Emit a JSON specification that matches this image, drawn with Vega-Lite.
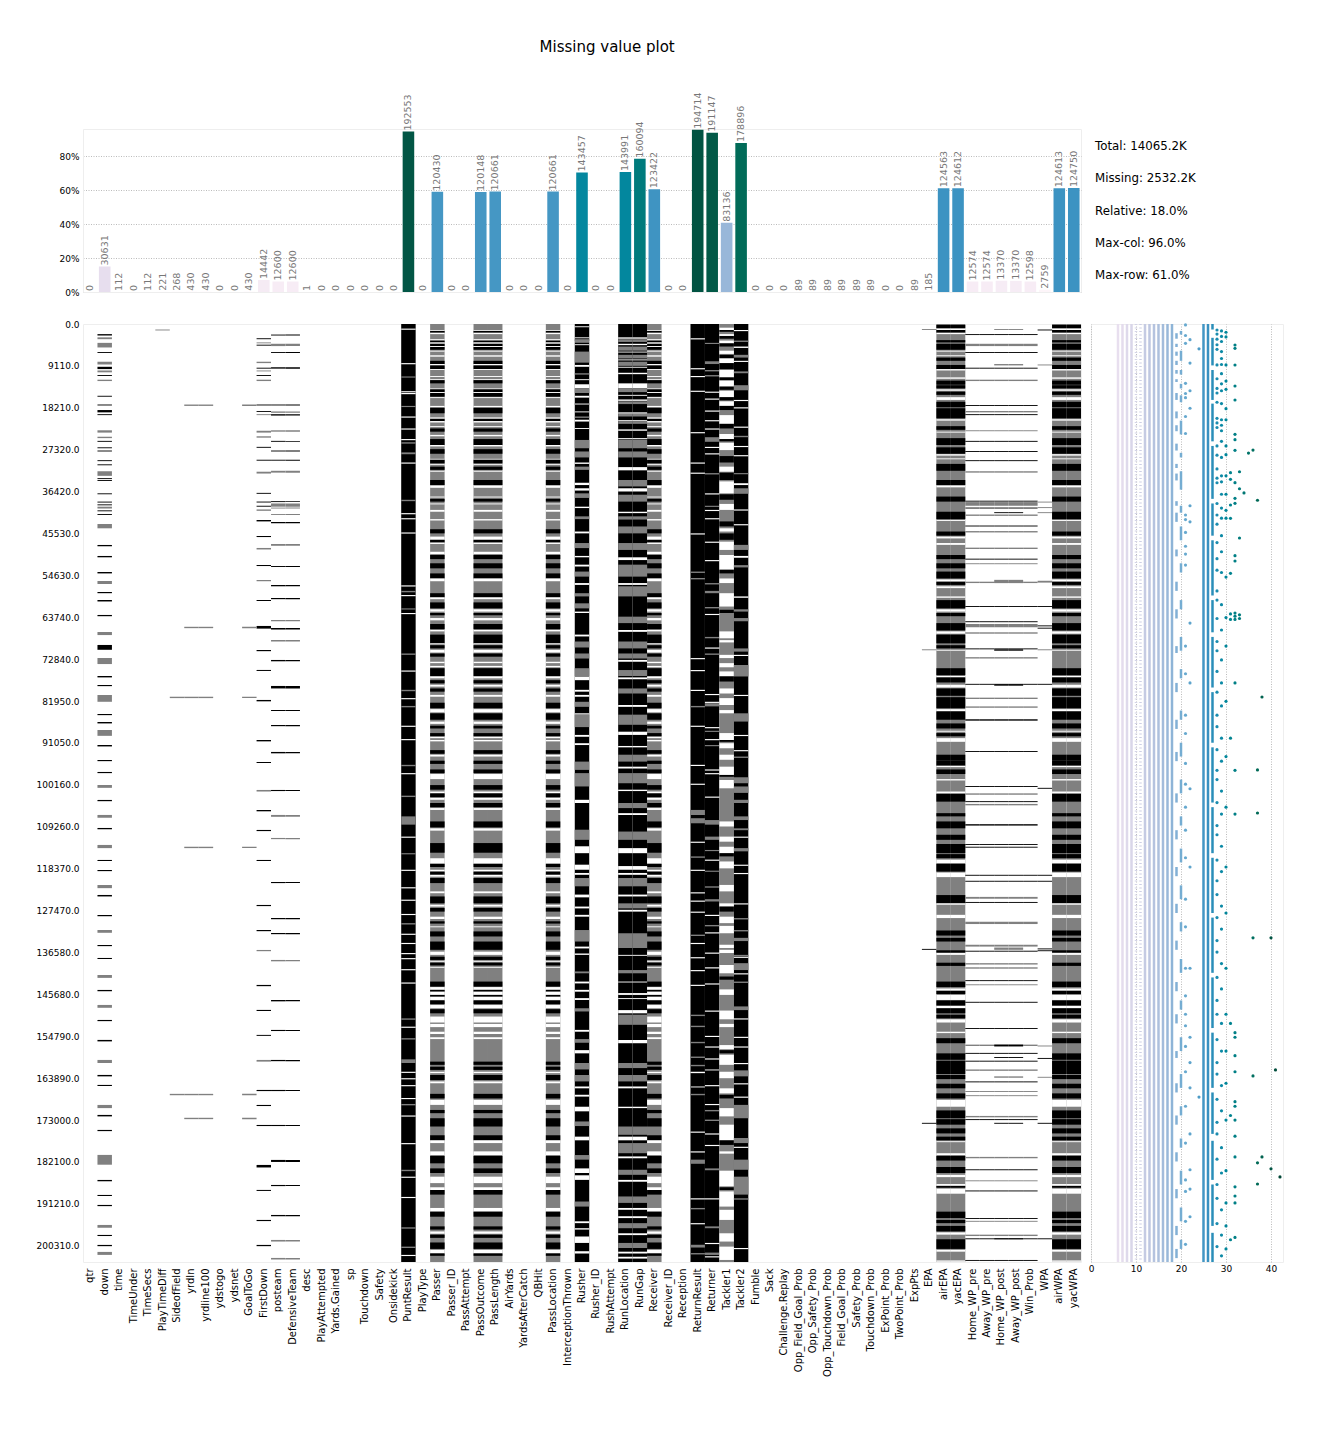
{
"$schema":"https://vega.github.io/schema/vega-lite/v6.json",
"padding":{"left":35,"top":40,"right":5,"bottom":5},
"background":"white",
"title":{"text":"Missing value plot","anchor":"start","dx":504,"offset":37,"fontSize":15,"fontWeight":"normal","font":"DejaVu Sans","color":"#000"},
"bounds":"flush",
"spacing":195,
"config":{"font":"DejaVu Sans","view":{"stroke":"#eeeeee"},"concat":{"spacing":10}},
"datasets":{
"cols":[{"c":"qtr","n":0},{"c":"down","n":30631},{"c":"time","n":112},{"c":"TimeUnder","n":0},{"c":"TimeSecs","n":112},{"c":"PlayTimeDiff","n":221},{"c":"SideofField","n":268},{"c":"yrdln","n":430},{"c":"yrdline100","n":430},{"c":"ydstogo","n":0},{"c":"ydsnet","n":0},{"c":"GoalToGo","n":430},{"c":"FirstDown","n":14442},{"c":"posteam","n":12600},{"c":"DefensiveTeam","n":12600},{"c":"desc","n":1},{"c":"PlayAttempted","n":0},{"c":"Yards.Gained","n":0},{"c":"sp","n":0},{"c":"Touchdown","n":0},{"c":"Safety","n":0},{"c":"Onsidekick","n":0},{"c":"PuntResult","n":192553},{"c":"PlayType","n":0},{"c":"Passer","n":120430},{"c":"Passer_ID","n":0},{"c":"PassAttempt","n":0},{"c":"PassOutcome","n":120148},{"c":"PassLength","n":120661},{"c":"AirYards","n":0},{"c":"YardsAfterCatch","n":0},{"c":"QBHit","n":0},{"c":"PassLocation","n":120661},{"c":"InterceptionThrown","n":0},{"c":"Rusher","n":143457},{"c":"Rusher_ID","n":0},{"c":"RushAttempt","n":0},{"c":"RunLocation","n":143991},{"c":"RunGap","n":160094},{"c":"Receiver","n":123422},{"c":"Receiver_ID","n":0},{"c":"Reception","n":0},{"c":"ReturnResult","n":194714},{"c":"Returner","n":191147},{"c":"Tackler1","n":83136},{"c":"Tackler2","n":178896},{"c":"Fumble","n":0},{"c":"Sack","n":0},{"c":"Challenge.Replay","n":0},{"c":"Opp_Field_Goal_Prob","n":89},{"c":"Opp_Safety_Prob","n":89},{"c":"Opp_Touchdown_Prob","n":89},{"c":"Field_Goal_Prob","n":89},{"c":"Safety_Prob","n":89},{"c":"Touchdown_Prob","n":89},{"c":"ExPoint_Prob","n":0},{"c":"TwoPoint_Prob","n":0},{"c":"ExpPts","n":89},{"c":"EPA","n":185},{"c":"airEPA","n":124563},{"c":"yacEPA","n":124612},{"c":"Home_WP_pre","n":12574},{"c":"Away_WP_pre","n":12574},{"c":"Home_WP_post","n":13370},{"c":"Away_WP_post","n":13370},{"c":"Win_Prob","n":12598},{"c":"WPA","n":2759},{"c":"airWPA","n":124613},{"c":"yacWPA","n":124750}],
"groups":[{"g":"PR","cs":["PuntResult"]},{"g":"RR","cs":["ReturnResult"]},{"g":"RT","cs":["Returner"]},{"g":"T1","cs":["Tackler1"]},{"g":"T2","cs":["Tackler2"]},{"g":"P","cs":["Passer","PassOutcome","PassLength","PassLocation","Receiver"]},{"g":"R","cs":["Rusher"]},{"g":"RL","cs":["RunLocation","RunGap"]},{"g":"E","cs":["airEPA","yacEPA","airWPA","yacWPA"]},{"g":"D","cs":["down"]},{"g":"FD","cs":["FirstDown"]},{"g":"PT","cs":["posteam","DefensiveTeam"]},{"g":"WP","cs":["Home_WP_pre","Away_WP_pre","Home_WP_post","Away_WP_post","Win_Prob"]},{"g":"WPP","cs":["Home_WP_post","Away_WP_post"]},{"g":"WA","cs":["WPA"]},{"g":"EP","cs":["EPA"]},{"g":"Y","cs":["yrdln","yrdline100","GoalToGo"]},{"g":"S","cs":["SideofField"]},{"g":"PD","cs":["PlayTimeDiff"]}],
"strips":[
{"g":"PR","a":0,"b":203843,"t":"k"},{"g":"RR","a":0,"b":203843,"t":"k"},{"g":"RT","a":0,"b":203843,"t":"k"},{"g":"T1","a":0,"b":203843,"t":"g"},{"g":"T2","a":0,"b":203843,"t":"k"},{"g":"P","a":0,"b":203843,"t":"g"},{"g":"R","a":0,"b":203843,"t":"k"},{"g":"RL","a":0,"b":203843,"t":"k"},{"g":"E","a":0,"b":203843,"t":"g"},
{"g":"P","a":1300,"b":1500,"t":"w"},{"g":"P","a":1500,"b":1900,"t":"k"},{"g":"P","a":1900,"b":2200,"t":"w"},{"g":"P","a":3300,"b":3600,"t":"w"},{"g":"P","a":3600,"b":4000,"t":"k"},{"g":"P","a":4000,"b":4300,"t":"w"},{"g":"P","a":4300,"b":4800,"t":"k"},{"g":"P","a":4800,"b":5000,"t":"w"},{"g":"P","a":5000,"b":5600,"t":"k"},{"g":"P","a":5800,"b":6000,"t":"w"},{"g":"P","a":6800,"b":7100,"t":"w"},{"g":"P","a":8000,"b":8700,"t":"k"},{"g":"P","a":8700,"b":9000,"t":"w"},{"g":"P","a":9000,"b":9800,"t":"k"},{"g":"P","a":9800,"b":10000,"t":"w"},{"g":"P","a":11300,"b":11500,"t":"w"},{"g":"P","a":12000,"b":12200,"t":"w"},{"g":"P","a":12200,"b":12900,"t":"k"},{"g":"P","a":14000,"b":14200,"t":"w"},{"g":"P","a":14200,"b":14800,"t":"k"},{"g":"P","a":14800,"b":15000,"t":"w"},{"g":"P","a":15000,"b":15800,"t":"k"},{"g":"P","a":15900,"b":16100,"t":"w"},{"g":"P","a":17800,"b":18100,"t":"w"},{"g":"P","a":18200,"b":19400,"t":"k"},{"g":"P","a":20300,"b":20600,"t":"w"},{"g":"P","a":20600,"b":21100,"t":"k"},{"g":"P","a":21100,"b":21400,"t":"w"},{"g":"P","a":22200,"b":22400,"t":"w"},{"g":"P","a":22700,"b":23400,"t":"k"},{"g":"P","a":24100,"b":24400,"t":"w"},{"g":"P","a":25000,"b":26300,"t":"k"},{"g":"P","a":26300,"b":26600,"t":"w"},{"g":"P","a":27200,"b":28200,"t":"k"},{"g":"P","a":29300,"b":29500,"t":"w"},{"g":"P","a":29500,"b":30300,"t":"k"},{"g":"P","a":30400,"b":30600,"t":"w"},{"g":"P","a":31000,"b":31700,"t":"k"},{"g":"P","a":31900,"b":32100,"t":"w"},{"g":"P","a":33900,"b":35000,"t":"k"},{"g":"P","a":35100,"b":35600,"t":"w"},{"g":"P","a":37500,"b":37700,"t":"w"},{"g":"P","a":38000,"b":38600,"t":"k"},{"g":"P","a":39000,"b":39200,"t":"w"},{"g":"P","a":40400,"b":40800,"t":"w"},{"g":"P","a":42400,"b":42700,"t":"w"},{"g":"P","a":44600,"b":45500,"t":"k"},{"g":"P","a":46200,"b":46900,"t":"w"},{"g":"P","a":46900,"b":47500,"t":"k"},{"g":"P","a":47500,"b":47800,"t":"w"},{"g":"P","a":49500,"b":50000,"t":"w"},{"g":"P","a":50200,"b":51100,"t":"k"},{"g":"P","a":52000,"b":53100,"t":"k"},{"g":"P","a":54200,"b":55300,"t":"k"},{"g":"P","a":55300,"b":55900,"t":"w"},{"g":"P","a":58500,"b":59400,"t":"k"},{"g":"P","a":59400,"b":59800,"t":"w"},{"g":"P","a":60500,"b":61800,"t":"k"},{"g":"P","a":62000,"b":62500,"t":"w"},{"g":"P","a":62800,"b":63300,"t":"k"},{"g":"P","a":63900,"b":64400,"t":"w"},{"g":"P","a":65200,"b":66300,"t":"k"},{"g":"P","a":66500,"b":66800,"t":"w"},{"g":"P","a":67500,"b":69400,"t":"k"},{"g":"P","a":69400,"b":69600,"t":"w"},{"g":"P","a":69800,"b":70500,"t":"k"},{"g":"P","a":70800,"b":71400,"t":"w"},{"g":"P","a":71600,"b":72300,"t":"k"},{"g":"P","a":73400,"b":73700,"t":"w"},{"g":"P","a":74300,"b":74600,"t":"w"},{"g":"P","a":74800,"b":76500,"t":"k"},{"g":"P","a":76600,"b":77000,"t":"w"},{"g":"P","a":77400,"b":78100,"t":"k"},{"g":"P","a":78400,"b":78800,"t":"w"},{"g":"P","a":79200,"b":79900,"t":"k"},{"g":"P","a":80600,"b":81000,"t":"w"},{"g":"P","a":82300,"b":83500,"t":"k"},{"g":"P","a":83700,"b":84400,"t":"w"},{"g":"P","a":84600,"b":86000,"t":"k"},{"g":"P","a":86400,"b":86900,"t":"w"},{"g":"P","a":87300,"b":87900,"t":"k"},{"g":"P","a":88900,"b":89600,"t":"k"},{"g":"P","a":89700,"b":90000,"t":"w"},{"g":"P","a":90400,"b":90700,"t":"w"},{"g":"P","a":92600,"b":93400,"t":"k"},{"g":"P","a":93600,"b":94000,"t":"w"},{"g":"P","a":94900,"b":95600,"t":"k"},{"g":"P","a":96800,"b":97600,"t":"k"},{"g":"P","a":97800,"b":98900,"t":"w"},{"g":"P","a":100200,"b":101200,"t":"k"},{"g":"P","a":101600,"b":102000,"t":"w"},{"g":"P","a":102000,"b":102800,"t":"k"},{"g":"P","a":103000,"b":103400,"t":"w"},{"g":"P","a":104100,"b":105000,"t":"k"},{"g":"P","a":105200,"b":105600,"t":"w"},{"g":"P","a":108100,"b":109400,"t":"k"},{"g":"P","a":109600,"b":110100,"t":"w"},{"g":"P","a":112800,"b":114900,"t":"k"},{"g":"P","a":116100,"b":117300,"t":"w"},{"g":"P","a":117300,"b":118000,"t":"k"},{"g":"P","a":118600,"b":119000,"t":"w"},{"g":"P","a":119000,"b":119700,"t":"k"},{"g":"P","a":119700,"b":120100,"t":"w"},{"g":"P","a":120400,"b":121500,"t":"k"},{"g":"P","a":123300,"b":123700,"t":"w"},{"g":"P","a":124400,"b":125900,"t":"k"},{"g":"P","a":126200,"b":126600,"t":"w"},{"g":"P","a":126900,"b":127700,"t":"k"},{"g":"P","a":128800,"b":129300,"t":"w"},{"g":"P","a":129800,"b":130300,"t":"k"},{"g":"P","a":130900,"b":131100,"t":"w"},{"g":"P","a":132000,"b":133100,"t":"k"},{"g":"P","a":134200,"b":136000,"t":"k"},{"g":"P","a":136400,"b":137100,"t":"w"},{"g":"P","a":137500,"b":138200,"t":"k"},{"g":"P","a":138400,"b":138600,"t":"w"},{"g":"P","a":138800,"b":139400,"t":"k"},{"g":"P","a":139700,"b":139900,"t":"w"},{"g":"P","a":142900,"b":144000,"t":"k"},{"g":"P","a":144100,"b":144700,"t":"w"},{"g":"P","a":144700,"b":145100,"t":"k"},{"g":"P","a":145100,"b":145800,"t":"w"},{"g":"P","a":145800,"b":146200,"t":"k"},{"g":"P","a":146200,"b":146900,"t":"w"},{"g":"P","a":147000,"b":147800,"t":"k"},{"g":"P","a":148000,"b":148700,"t":"w"},{"g":"P","a":148900,"b":149800,"t":"k"},{"g":"P","a":150500,"b":151800,"t":"w"},{"g":"P","a":152100,"b":152800,"t":"w"},{"g":"P","a":153800,"b":154300,"t":"w"},{"g":"P","a":155000,"b":155400,"t":"w"},{"g":"P","a":160300,"b":161000,"t":"k"},{"g":"P","a":161400,"b":162100,"t":"k"},{"g":"P","a":162500,"b":162800,"t":"w"},{"g":"P","a":163200,"b":164300,"t":"k"},{"g":"P","a":164600,"b":165000,"t":"w"},{"g":"P","a":167300,"b":168300,"t":"k"},{"g":"P","a":168600,"b":169700,"t":"w"},{"g":"P","a":170800,"b":171500,"t":"k"},{"g":"P","a":172600,"b":174400,"t":"k"},{"g":"P","a":176300,"b":177400,"t":"k"},{"g":"P","a":177400,"b":178000,"t":"w"},{"g":"P","a":179800,"b":180600,"t":"w"},{"g":"P","a":180800,"b":182400,"t":"k"},{"g":"P","a":183500,"b":184500,"t":"k"},{"g":"P","a":185300,"b":186700,"t":"w"},{"g":"P","a":187600,"b":188200,"t":"w"},{"g":"P","a":188200,"b":189200,"t":"k"},{"g":"P","a":192100,"b":192900,"t":"w"},{"g":"P","a":192900,"b":194000,"t":"k"},{"g":"P","a":196100,"b":196800,"t":"k"},{"g":"P","a":197200,"b":197700,"t":"w"},{"g":"P","a":197900,"b":198600,"t":"k"},{"g":"P","a":199600,"b":201000,"t":"k"},{"g":"P","a":201200,"b":201900,"t":"w"},{"g":"P","a":202000,"b":202500,"t":"k"},
{"g":"RL","a":2900,"b":3200,"t":"w"},{"g":"RL","a":3300,"b":3900,"t":"g"},{"g":"RL","a":4300,"b":4600,"t":"w"},{"g":"RL","a":4900,"b":5800,"t":"g"},{"g":"RL","a":6000,"b":6200,"t":"w"},{"g":"RL","a":6700,"b":7500,"t":"g"},{"g":"RL","a":7700,"b":7900,"t":"w"},{"g":"RL","a":8200,"b":9100,"t":"g"},{"g":"RL","a":9300,"b":9500,"t":"w"},{"g":"RL","a":10600,"b":10900,"t":"w"},{"g":"RL","a":12900,"b":14000,"t":"w"},{"g":"RL","a":14000,"b":14800,"t":"g"},{"g":"RL","a":15400,"b":15600,"t":"w"},{"g":"RL","a":16400,"b":16700,"t":"w"},{"g":"RL","a":16800,"b":17400,"t":"g"},{"g":"RL","a":19200,"b":19500,"t":"w"},{"g":"RL","a":19500,"b":20100,"t":"g"},{"g":"RL","a":20900,"b":21100,"t":"w"},{"g":"RL","a":21100,"b":21700,"t":"g"},{"g":"RL","a":22900,"b":23200,"t":"w"},{"g":"RL","a":24800,"b":25000,"t":"w"},{"g":"RL","a":25100,"b":27000,"t":"g"},{"g":"RL","a":27700,"b":29000,"t":"g"},{"g":"RL","a":31100,"b":31800,"t":"w"},{"g":"RL","a":33900,"b":35300,"t":"g"},{"g":"RL","a":35700,"b":36400,"t":"w"},{"g":"RL","a":37100,"b":38600,"t":"g"},{"g":"RL","a":40800,"b":41100,"t":"w"},{"g":"RL","a":41800,"b":42500,"t":"g"},{"g":"RL","a":44000,"b":45500,"t":"g"},{"g":"RL","a":47600,"b":49100,"t":"g"},{"g":"RL","a":50700,"b":51300,"t":"w"},{"g":"RL","a":52300,"b":54900,"t":"g"},{"g":"RL","a":56300,"b":56700,"t":"w"},{"g":"RL","a":57000,"b":59200,"t":"g"},{"g":"RL","a":63600,"b":65000,"t":"g"},{"g":"RL","a":66500,"b":66900,"t":"w"},{"g":"RL","a":69000,"b":70500,"t":"g"},{"g":"RL","a":71600,"b":72700,"t":"g"},{"g":"RL","a":73000,"b":73400,"t":"w"},{"g":"RL","a":75200,"b":76500,"t":"g"},{"g":"RL","a":76800,"b":77200,"t":"w"},{"g":"RL","a":79200,"b":80300,"t":"g"},{"g":"RL","a":82800,"b":83200,"t":"w"},{"g":"RL","a":84900,"b":87100,"t":"g"},{"g":"RL","a":88600,"b":89300,"t":"w"},{"g":"RL","a":91700,"b":92000,"t":"w"},{"g":"RL","a":93600,"b":95100,"t":"g"},{"g":"RL","a":96200,"b":96600,"t":"w"},{"g":"RL","a":97600,"b":99800,"t":"g"},{"g":"RL","a":101200,"b":101500,"t":"w"},{"g":"RL","a":104100,"b":105200,"t":"g"},{"g":"RL","a":106300,"b":106700,"t":"w"},{"g":"RL","a":110300,"b":112100,"t":"g"},{"g":"RL","a":113900,"b":115000,"t":"w"},{"g":"RL","a":117800,"b":118600,"t":"w"},{"g":"RL","a":119300,"b":119700,"t":"w"},{"g":"RL","a":120400,"b":122200,"t":"g"},{"g":"RL","a":124000,"b":124400,"t":"w"},{"g":"RL","a":125900,"b":127000,"t":"g"},{"g":"RL","a":127300,"b":127700,"t":"w"},{"g":"RL","a":132400,"b":135600,"t":"g"},{"g":"RL","a":137100,"b":137300,"t":"w"},{"g":"RL","a":140400,"b":141100,"t":"g"},{"g":"RL","a":142900,"b":143100,"t":"w"},{"g":"RL","a":145400,"b":145800,"t":"w"},{"g":"RL","a":146500,"b":146700,"t":"w"},{"g":"RL","a":149100,"b":149800,"t":"w"},{"g":"RL","a":150100,"b":152300,"t":"g"},{"g":"RL","a":155600,"b":156300,"t":"w"},{"g":"RL","a":160600,"b":161700,"t":"g"},{"g":"RL","a":163200,"b":164600,"t":"g"},{"g":"RL","a":165700,"b":166100,"t":"w"},{"g":"RL","a":170100,"b":170400,"t":"w"},{"g":"RL","a":174400,"b":176200,"t":"g"},{"g":"RL","a":176600,"b":177400,"t":"w"},{"g":"RL","a":178000,"b":180200,"t":"g"},{"g":"RL","a":180900,"b":181300,"t":"w"},{"g":"RL","a":183800,"b":184900,"t":"g"},{"g":"RL","a":186000,"b":186400,"t":"w"},{"g":"RL","a":189600,"b":191000,"t":"g"},{"g":"RL","a":192100,"b":192500,"t":"w"},{"g":"RL","a":193900,"b":194300,"t":"w"},{"g":"RL","a":195400,"b":196500,"t":"g"},{"g":"RL","a":197600,"b":198000,"t":"w"},{"g":"RL","a":199700,"b":200800,"t":"g"},{"g":"RL","a":201600,"b":202000,"t":"w"},{"g":"RL","a":202700,"b":203100,"t":"w"},
{"g":"R","a":500,"b":700,"t":"w"},{"g":"R","a":2900,"b":3100,"t":"w"},{"g":"R","a":3300,"b":3700,"t":"g"},{"g":"R","a":3800,"b":4000,"t":"w"},{"g":"R","a":4400,"b":4600,"t":"w"},{"g":"R","a":6000,"b":8400,"t":"g"},{"g":"R","a":8900,"b":9300,"t":"w"},{"g":"R","a":10700,"b":11000,"t":"g"},{"g":"R","a":12000,"b":12200,"t":"w"},{"g":"R","a":13100,"b":14000,"t":"w"},{"g":"R","a":14000,"b":15000,"t":"g"},{"g":"R","a":15600,"b":16000,"t":"w"},{"g":"R","a":17200,"b":17600,"t":"g"},{"g":"R","a":19000,"b":19200,"t":"w"},{"g":"R","a":20100,"b":20400,"t":"g"},{"g":"R","a":20800,"b":21200,"t":"w"},{"g":"R","a":22600,"b":22800,"t":"w"},{"g":"R","a":25200,"b":27000,"t":"g"},{"g":"R","a":27700,"b":29000,"t":"g"},{"g":"R","a":30100,"b":30400,"t":"w"},{"g":"R","a":31000,"b":31700,"t":"g"},{"g":"R","a":34500,"b":35000,"t":"w"},{"g":"R","a":35700,"b":36200,"t":"w"},{"g":"R","a":36800,"b":37800,"t":"g"},{"g":"R","a":39700,"b":40000,"t":"w"},{"g":"R","a":41800,"b":42400,"t":"g"},{"g":"R","a":45100,"b":45500,"t":"w"},{"g":"R","a":47600,"b":48700,"t":"g"},{"g":"R","a":50400,"b":50700,"t":"w"},{"g":"R","a":52300,"b":52700,"t":"w"},{"g":"R","a":53800,"b":54900,"t":"g"},{"g":"R","a":56300,"b":56700,"t":"w"},{"g":"R","a":58500,"b":59200,"t":"g"},{"g":"R","a":60700,"b":61800,"t":"g"},{"g":"R","a":62500,"b":62800,"t":"w"},{"g":"R","a":67500,"b":67900,"t":"w"},{"g":"R","a":69000,"b":70300,"t":"g"},{"g":"R","a":71600,"b":72700,"t":"g"},{"g":"R","a":74800,"b":76500,"t":"g"},{"g":"R","a":76600,"b":77400,"t":"w"},{"g":"R","a":79500,"b":79900,"t":"w"},{"g":"R","a":80600,"b":81000,"t":"w"},{"g":"R","a":82100,"b":83200,"t":"g"},{"g":"R","a":84600,"b":84900,"t":"w"},{"g":"R","a":84900,"b":87600,"t":"g"},{"g":"R","a":89300,"b":89700,"t":"w"},{"g":"R","a":91100,"b":91500,"t":"w"},{"g":"R","a":95100,"b":96900,"t":"g"},{"g":"R","a":97600,"b":100500,"t":"g"},{"g":"R","a":103400,"b":104100,"t":"w"},{"g":"R","a":109900,"b":112100,"t":"g"},{"g":"R","a":113500,"b":115000,"t":"w"},{"g":"R","a":117500,"b":118600,"t":"w"},{"g":"R","a":119300,"b":119700,"t":"w"},{"g":"R","a":120400,"b":122200,"t":"g"},{"g":"R","a":124000,"b":124600,"t":"w"},{"g":"R","a":126600,"b":127000,"t":"w"},{"g":"R","a":128400,"b":128800,"t":"w"},{"g":"R","a":131700,"b":134200,"t":"g"},{"g":"R","a":135300,"b":135700,"t":"w"},{"g":"R","a":136800,"b":137100,"t":"w"},{"g":"R","a":140700,"b":141100,"t":"g"},{"g":"R","a":142900,"b":143300,"t":"w"},{"g":"R","a":144700,"b":145100,"t":"w"},{"g":"R","a":146500,"b":146900,"t":"w"},{"g":"R","a":148700,"b":149400,"t":"g"},{"g":"R","a":153400,"b":153800,"t":"w"},{"g":"R","a":155400,"b":156200,"t":"g"},{"g":"R","a":157800,"b":158500,"t":"w"},{"g":"R","a":160600,"b":162000,"t":"g"},{"g":"R","a":163200,"b":164600,"t":"g"},{"g":"R","a":165700,"b":166100,"t":"w"},{"g":"R","a":167500,"b":167900,"t":"w"},{"g":"R","a":170100,"b":171100,"t":"w"},{"g":"R","a":173300,"b":174300,"t":"g"},{"g":"R","a":176600,"b":177400,"t":"w"},{"g":"R","a":180600,"b":181600,"t":"g"},{"g":"R","a":183500,"b":184500,"t":"w"},{"g":"R","a":185000,"b":186000,"t":"w"},{"g":"R","a":190700,"b":191800,"t":"g"},{"g":"R","a":195000,"b":195400,"t":"w"},{"g":"R","a":196500,"b":196800,"t":"w"},{"g":"R","a":198300,"b":199700,"t":"w"},{"g":"R","a":201500,"b":202000,"t":"w"},
{"g":"PR","a":1000,"b":1250,"t":"w"},{"g":"PR","a":8500,"b":8750,"t":"w"},{"g":"PR","a":11400,"b":11650,"t":"g"},{"g":"PR","a":14600,"b":14850,"t":"w"},{"g":"PR","a":15000,"b":15250,"t":"w"},{"g":"PR","a":17800,"b":18050,"t":"g"},{"g":"PR","a":20100,"b":20350,"t":"w"},{"g":"PR","a":22700,"b":22950,"t":"w"},{"g":"PR","a":25000,"b":25250,"t":"w"},{"g":"PR","a":25700,"b":26000,"t":"g"},{"g":"PR","a":27900,"b":28300,"t":"g"},{"g":"PR","a":30100,"b":30350,"t":"w"},{"g":"PR","a":38200,"b":38500,"t":"g"},{"g":"PR","a":41100,"b":41350,"t":"w"},{"g":"PR","a":42200,"b":42450,"t":"w"},{"g":"PR","a":45300,"b":45550,"t":"w"},{"g":"PR","a":56800,"b":57050,"t":"w"},{"g":"PR","a":58000,"b":58300,"t":"g"},{"g":"PR","a":58900,"b":59150,"t":"w"},{"g":"PR","a":61800,"b":62050,"t":"g"},{"g":"PR","a":62800,"b":63050,"t":"w"},{"g":"PR","a":71600,"b":71900,"t":"g"},{"g":"PR","a":75300,"b":75550,"t":"w"},{"g":"PR","a":79500,"b":79800,"t":"g"},{"g":"PR","a":81300,"b":81550,"t":"w"},{"g":"PR","a":83000,"b":83300,"t":"g"},{"g":"PR","a":87300,"b":87550,"t":"w"},{"g":"PR","a":90200,"b":90450,"t":"w"},{"g":"PR","a":95800,"b":96100,"t":"g"},{"g":"PR","a":97600,"b":97850,"t":"w"},{"g":"PR","a":102500,"b":102800,"t":"g"},{"g":"PR","a":107000,"b":108800,"t":"g"},{"g":"PR","a":111400,"b":111650,"t":"w"},{"g":"PR","a":115000,"b":115250,"t":"g"},{"g":"PR","a":118600,"b":118850,"t":"w"},{"g":"PR","a":122400,"b":122650,"t":"w"},{"g":"PR","a":125100,"b":125350,"t":"w"},{"g":"PR","a":128200,"b":128450,"t":"w"},{"g":"PR","a":130200,"b":130500,"t":"g"},{"g":"PR","a":132500,"b":132750,"t":"w"},{"g":"PR","a":134500,"b":134750,"t":"w"},{"g":"PR","a":136700,"b":136950,"t":"w"},{"g":"PR","a":137800,"b":138050,"t":"w"},{"g":"PR","a":140200,"b":140450,"t":"w"},{"g":"PR","a":143100,"b":143350,"t":"w"},{"g":"PR","a":150900,"b":151200,"t":"g"},{"g":"PR","a":152700,"b":152950,"t":"w"},{"g":"PR","a":155200,"b":155500,"t":"g"},{"g":"PR","a":159800,"b":160600,"t":"g"},{"g":"PR","a":162500,"b":162750,"t":"w"},{"g":"PR","a":163900,"b":164150,"t":"w"},{"g":"PR","a":165400,"b":165650,"t":"w"},{"g":"PR","a":168200,"b":168450,"t":"w"},{"g":"PR","a":169500,"b":169800,"t":"g"},{"g":"PR","a":172000,"b":172250,"t":"w"},{"g":"PR","a":178000,"b":178250,"t":"w"},{"g":"PR","a":183800,"b":184100,"t":"g"},{"g":"PR","a":185300,"b":185550,"t":"w"},{"g":"PR","a":189700,"b":189950,"t":"w"},{"g":"PR","a":196300,"b":196600,"t":"g"},{"g":"PR","a":200500,"b":200800,"t":"g"},{"g":"PR","a":202300,"b":202550,"t":"w"},
{"g":"RR","a":3100,"b":3350,"t":"w"},{"g":"RR","a":9600,"b":9850,"t":"w"},{"g":"RR","a":11300,"b":11550,"t":"w"},{"g":"RR","a":14500,"b":14750,"t":"w"},{"g":"RR","a":23500,"b":23750,"t":"w"},{"g":"RR","a":30100,"b":30350,"t":"w"},{"g":"RR","a":32300,"b":32550,"t":"w"},{"g":"RR","a":45500,"b":45750,"t":"w"},{"g":"RR","a":53800,"b":54100,"t":"g"},{"g":"RR","a":55200,"b":55500,"t":"g"},{"g":"RR","a":72600,"b":72850,"t":"w"},{"g":"RR","a":75200,"b":75450,"t":"w"},{"g":"RR","a":79500,"b":79750,"t":"w"},{"g":"RR","a":83000,"b":83300,"t":"g"},{"g":"RR","a":87300,"b":87550,"t":"w"},{"g":"RR","a":95800,"b":96050,"t":"w"},{"g":"RR","a":99900,"b":100150,"t":"w"},{"g":"RR","a":105600,"b":106700,"t":"g"},{"g":"RR","a":107400,"b":108500,"t":"g"},{"g":"RR","a":112500,"b":112750,"t":"w"},{"g":"RR","a":115700,"b":116000,"t":"g"},{"g":"RR","a":118600,"b":118850,"t":"w"},{"g":"RR","a":123500,"b":123750,"t":"w"},{"g":"RR","a":125300,"b":125550,"t":"w"},{"g":"RR","a":127700,"b":127950,"t":"w"},{"g":"RR","a":132700,"b":133000,"t":"g"},{"g":"RR","a":134500,"b":134750,"t":"w"},{"g":"RR","a":137600,"b":137850,"t":"w"},{"g":"RR","a":140400,"b":140650,"t":"w"},{"g":"RR","a":143600,"b":143850,"t":"w"},{"g":"RR","a":150100,"b":150400,"t":"g"},{"g":"RR","a":152500,"b":152800,"t":"g"},{"g":"RR","a":156000,"b":156300,"t":"g"},{"g":"RR","a":159200,"b":159500,"t":"g"},{"g":"RR","a":161000,"b":161300,"t":"g"},{"g":"RR","a":162500,"b":162800,"t":"w"},{"g":"RR","a":165600,"b":166000,"t":"g"},{"g":"RR","a":167300,"b":167600,"t":"g"},{"g":"RR","a":175500,"b":175750,"t":"w"},{"g":"RR","a":179800,"b":180050,"t":"w"},{"g":"RR","a":181600,"b":182500,"t":"g"},{"g":"RR","a":190000,"b":190250,"t":"w"},{"g":"RR","a":192100,"b":192400,"t":"g"},{"g":"RR","a":195400,"b":195650,"t":"w"},{"g":"RR","a":200100,"b":200700,"t":"g"},{"g":"RR","a":201900,"b":202200,"t":"g"},
{"g":"RT","a":4100,"b":4350,"t":"g"},{"g":"RT","a":8100,"b":8700,"t":"g"},{"g":"RT","a":10000,"b":10300,"t":"g"},{"g":"RT","a":11100,"b":11400,"t":"g"},{"g":"RT","a":14700,"b":14950,"t":"w"},{"g":"RT","a":16200,"b":16450,"t":"w"},{"g":"RT","a":18800,"b":19050,"t":"w"},{"g":"RT","a":20900,"b":21150,"t":"w"},{"g":"RT","a":22700,"b":22950,"t":"w"},{"g":"RT","a":24600,"b":25600,"t":"g"},{"g":"RT","a":26700,"b":26950,"t":"w"},{"g":"RT","a":28100,"b":28350,"t":"w"},{"g":"RT","a":32400,"b":32700,"t":"g"},{"g":"RT","a":36800,"b":37050,"t":"w"},{"g":"RT","a":39500,"b":39750,"t":"g"},{"g":"RT","a":40400,"b":40650,"t":"w"},{"g":"RT","a":42200,"b":42450,"t":"w"},{"g":"RT","a":47300,"b":47550,"t":"w"},{"g":"RT","a":51300,"b":51550,"t":"w"},{"g":"RT","a":56300,"b":56600,"t":"g"},{"g":"RT","a":58000,"b":58500,"t":"g"},{"g":"RT","a":61500,"b":61800,"t":"g"},{"g":"RT","a":63000,"b":63250,"t":"w"},{"g":"RT","a":68000,"b":68300,"t":"g"},{"g":"RT","a":70300,"b":70550,"t":"w"},{"g":"RT","a":71600,"b":71900,"t":"g"},{"g":"RT","a":80400,"b":80650,"t":"w"},{"g":"RT","a":82100,"b":82350,"t":"w"},{"g":"RT","a":82400,"b":83100,"t":"g"},{"g":"RT","a":87600,"b":87850,"t":"w"},{"g":"RT","a":88400,"b":88650,"t":"g"},{"g":"RT","a":90200,"b":90450,"t":"w"},{"g":"RT","a":91500,"b":91750,"t":"g"},{"g":"RT","a":96800,"b":97050,"t":"w"},{"g":"RT","a":97600,"b":97850,"t":"w"},{"g":"RT","a":102700,"b":102950,"t":"w"},{"g":"RT","a":107800,"b":108800,"t":"g"},{"g":"RT","a":111400,"b":112100,"t":"g"},{"g":"RT","a":114300,"b":114550,"t":"g"},{"g":"RT","a":116400,"b":116650,"t":"w"},{"g":"RT","a":118800,"b":119050,"t":"g"},{"g":"RT","a":122200,"b":122500,"t":"g"},{"g":"RT","a":125000,"b":125500,"t":"g"},{"g":"RT","a":128400,"b":128650,"t":"w"},{"g":"RT","a":130600,"b":130900,"t":"g"},{"g":"RT","a":132200,"b":132450,"t":"w"},{"g":"RT","a":136600,"b":136850,"t":"w"},{"g":"RT","a":139800,"b":140050,"t":"w"},{"g":"RT","a":143300,"b":143550,"t":"w"},{"g":"RT","a":149200,"b":149450,"t":"w"},{"g":"RT","a":154700,"b":154950,"t":"w"},{"g":"RT","a":157000,"b":157250,"t":"w"},{"g":"RT","a":159600,"b":159850,"t":"w"},{"g":"RT","a":161900,"b":162300,"t":"g"},{"g":"RT","a":165400,"b":165650,"t":"w"},{"g":"RT","a":169500,"b":169750,"t":"w"},{"g":"RT","a":170800,"b":171100,"t":"g"},{"g":"RT","a":172900,"b":173200,"t":"g"},{"g":"RT","a":175900,"b":176150,"t":"w"},{"g":"RT","a":178400,"b":178650,"t":"w"},{"g":"RT","a":183500,"b":183900,"t":"g"},{"g":"RT","a":190000,"b":190250,"t":"w"},{"g":"RT","a":196100,"b":196500,"t":"g"},{"g":"RT","a":199700,"b":199950,"t":"w"},{"g":"RT","a":201800,"b":202300,"t":"g"},{"g":"RT","a":202600,"b":202850,"t":"w"},
{"g":"T1","a":800,"b":1300,"t":"w"},{"g":"T1","a":1300,"b":1700,"t":"k"},{"g":"T1","a":2200,"b":2600,"t":"w"},{"g":"T1","a":2600,"b":3200,"t":"k"},{"g":"T1","a":3600,"b":4200,"t":"w"},{"g":"T1","a":4200,"b":4900,"t":"k"},{"g":"T1","a":5800,"b":6500,"t":"w"},{"g":"T1","a":6700,"b":7400,"t":"k"},{"g":"T1","a":7500,"b":8500,"t":"w"},{"g":"T1","a":8500,"b":9800,"t":"k"},{"g":"T1","a":10000,"b":11600,"t":"w"},{"g":"T1","a":11600,"b":12200,"t":"k"},{"g":"T1","a":12300,"b":13600,"t":"w"},{"g":"T1","a":13600,"b":14300,"t":"k"},{"g":"T1","a":14500,"b":15900,"t":"w"},{"g":"T1","a":15900,"b":16600,"t":"k"},{"g":"T1","a":16800,"b":17800,"t":"w"},{"g":"T1","a":17800,"b":18700,"t":"k"},{"g":"T1","a":19800,"b":21700,"t":"w"},{"g":"T1","a":21700,"b":22700,"t":"k"},{"g":"T1","a":23900,"b":25000,"t":"w"},{"g":"T1","a":25000,"b":25500,"t":"k"},{"g":"T1","a":25800,"b":27400,"t":"w"},{"g":"T1","a":28700,"b":30100,"t":"k"},{"g":"T1","a":31000,"b":32100,"t":"w"},{"g":"T1","a":32300,"b":33900,"t":"k"},{"g":"T1","a":34200,"b":36800,"t":"w"},{"g":"T1","a":37000,"b":38200,"t":"k"},{"g":"T1","a":39100,"b":40400,"t":"w"},{"g":"T1","a":42900,"b":44000,"t":"k"},{"g":"T1","a":44400,"b":45100,"t":"w"},{"g":"T1","a":45500,"b":46900,"t":"k"},{"g":"T1","a":47300,"b":49100,"t":"w"},{"g":"T1","a":50200,"b":53400,"t":"w"},{"g":"T1","a":53400,"b":54200,"t":"k"},{"g":"T1","a":55300,"b":56300,"t":"w"},{"g":"T1","a":58500,"b":61400,"t":"w"},{"g":"T1","a":62100,"b":62800,"t":"k"},{"g":"T1","a":66800,"b":68300,"t":"w"},{"g":"T1","a":68700,"b":69200,"t":"w"},{"g":"T1","a":71900,"b":72600,"t":"w"},{"g":"T1","a":73700,"b":74600,"t":"w"},{"g":"T1","a":75500,"b":76500,"t":"w"},{"g":"T1","a":76600,"b":77700,"t":"k"},{"g":"T1","a":79200,"b":80300,"t":"w"},{"g":"T1","a":81300,"b":82800,"t":"w"},{"g":"T1","a":83900,"b":84600,"t":"w"},{"g":"T1","a":88900,"b":90400,"t":"w"},{"g":"T1","a":90400,"b":90800,"t":"k"},{"g":"T1","a":91100,"b":92200,"t":"w"},{"g":"T1","a":93600,"b":94700,"t":"w"},{"g":"T1","a":96200,"b":98000,"t":"w"},{"g":"T1","a":98000,"b":98400,"t":"k"},{"g":"T1","a":99100,"b":100900,"t":"w"},{"g":"T1","a":108100,"b":109200,"t":"w"},{"g":"T1","a":111400,"b":112500,"t":"w"},{"g":"T1","a":113600,"b":115000,"t":"w"},{"g":"T1","a":115000,"b":115700,"t":"k"},{"g":"T1","a":116800,"b":118300,"t":"w"},{"g":"T1","a":121900,"b":123300,"t":"w"},{"g":"T1","a":125900,"b":126600,"t":"w"},{"g":"T1","a":126600,"b":127700,"t":"k"},{"g":"T1","a":128800,"b":130200,"t":"w"},{"g":"T1","a":130800,"b":132400,"t":"w"},{"g":"T1","a":134900,"b":135600,"t":"w"},{"g":"T1","a":136000,"b":136700,"t":"w"},{"g":"T1","a":139300,"b":141100,"t":"w"},{"g":"T1","a":141800,"b":142500,"t":"k"},{"g":"T1","a":144600,"b":145800,"t":"w"},{"g":"T1","a":149200,"b":151100,"t":"w"},{"g":"T1","a":152100,"b":152800,"t":"w"},{"g":"T1","a":156700,"b":157600,"t":"w"},{"g":"T1","a":157800,"b":158500,"t":"k"},{"g":"T1","a":158800,"b":161000,"t":"w"},{"g":"T1","a":162500,"b":163900,"t":"w"},{"g":"T1","a":166100,"b":167200,"t":"w"},{"g":"T1","a":167500,"b":168300,"t":"k"},{"g":"T1","a":170400,"b":172200,"t":"w"},{"g":"T1","a":174000,"b":177400,"t":"w"},{"g":"T1","a":177400,"b":178400,"t":"k"},{"g":"T1","a":179800,"b":180300,"t":"w"},{"g":"T1","a":184000,"b":187400,"t":"w"},{"g":"T1","a":187600,"b":188200,"t":"k"},{"g":"T1","a":188500,"b":191800,"t":"w"},{"g":"T1","a":192500,"b":194700,"t":"w"},{"g":"T1","a":197600,"b":199400,"t":"w"},{"g":"T1","a":200500,"b":203400,"t":"w"},
{"g":"T2","a":1300,"b":1550,"t":"w"},{"g":"T2","a":3600,"b":3900,"t":"g"},{"g":"T2","a":4900,"b":5200,"t":"w"},{"g":"T2","a":6700,"b":7300,"t":"g"},{"g":"T2","a":8000,"b":8250,"t":"w"},{"g":"T2","a":10300,"b":10700,"t":"g"},{"g":"T2","a":13300,"b":14400,"t":"g"},{"g":"T2","a":16500,"b":16750,"t":"w"},{"g":"T2","a":18100,"b":18350,"t":"w"},{"g":"T2","a":22300,"b":22550,"t":"w"},{"g":"T2","a":24300,"b":24600,"t":"g"},{"g":"T2","a":26500,"b":26750,"t":"w"},{"g":"T2","a":28500,"b":28750,"t":"w"},{"g":"T2","a":32400,"b":32650,"t":"g"},{"g":"T2","a":34600,"b":35000,"t":"w"},{"g":"T2","a":35700,"b":36900,"t":"g"},{"g":"T2","a":40300,"b":40550,"t":"w"},{"g":"T2","a":43500,"b":43750,"t":"w"},{"g":"T2","a":48000,"b":49100,"t":"g"},{"g":"T2","a":50400,"b":50800,"t":"w"},{"g":"T2","a":52400,"b":52900,"t":"g"},{"g":"T2","a":59200,"b":59500,"t":"w"},{"g":"T2","a":62000,"b":62500,"t":"g"},{"g":"T2","a":63900,"b":64600,"t":"g"},{"g":"T2","a":70500,"b":71200,"t":"g"},{"g":"T2","a":71900,"b":72150,"t":"w"},{"g":"T2","a":74100,"b":76600,"t":"g"},{"g":"T2","a":80600,"b":80850,"t":"w"},{"g":"T2","a":84600,"b":86400,"t":"g"},{"g":"T2","a":89300,"b":89550,"t":"w"},{"g":"T2","a":92600,"b":92850,"t":"w"},{"g":"T2","a":94000,"b":94300,"t":"g"},{"g":"T2","a":98500,"b":99800,"t":"g"},{"g":"T2","a":100500,"b":101900,"t":"g"},{"g":"T2","a":103400,"b":104100,"t":"g"},{"g":"T2","a":107000,"b":107800,"t":"g"},{"g":"T2","a":109600,"b":110000,"t":"g"},{"g":"T2","a":111400,"b":111650,"t":"w"},{"g":"T2","a":113900,"b":114600,"t":"g"},{"g":"T2","a":117500,"b":117750,"t":"w"},{"g":"T2","a":119300,"b":119550,"t":"w"},{"g":"T2","a":125900,"b":126150,"t":"w"},{"g":"T2","a":129100,"b":129400,"t":"g"},{"g":"T2","a":131700,"b":132000,"t":"g"},{"g":"T2","a":133400,"b":134100,"t":"g"},{"g":"T2","a":137100,"b":137400,"t":"g"},{"g":"T2","a":137500,"b":137750,"t":"w"},{"g":"T2","a":138900,"b":140400,"t":"g"},{"g":"T2","a":141100,"b":141350,"t":"w"},{"g":"T2","a":142900,"b":143200,"t":"g"},{"g":"T2","a":148300,"b":149100,"t":"g"},{"g":"T2","a":150900,"b":151150,"t":"w"},{"g":"T2","a":154900,"b":155150,"t":"w"},{"g":"T2","a":157000,"b":157250,"t":"w"},{"g":"T2","a":160600,"b":160850,"t":"w"},{"g":"T2","a":162200,"b":163500,"t":"g"},{"g":"T2","a":165000,"b":165250,"t":"w"},{"g":"T2","a":167900,"b":168150,"t":"w"},{"g":"T2","a":169700,"b":172600,"t":"g"},{"g":"T2","a":176900,"b":178000,"t":"g"},{"g":"T2","a":178800,"b":179050,"t":"w"},{"g":"T2","a":181600,"b":183800,"t":"g"},{"g":"T2","a":185300,"b":189200,"t":"g"},{"g":"T2","a":190000,"b":190300,"t":"g"},{"g":"T2","a":200800,"b":201050,"t":"w"},
{"g":"E","a":200,"b":900,"t":"k"},{"g":"E","a":1000,"b":1300,"t":"w"},{"g":"E","a":1300,"b":1900,"t":"k"},{"g":"E","a":1900,"b":2200,"t":"w"},{"g":"E","a":3500,"b":4000,"t":"k"},{"g":"E","a":4300,"b":5600,"t":"k"},{"g":"E","a":5800,"b":6000,"t":"w"},{"g":"E","a":6800,"b":7000,"t":"w"},{"g":"E","a":7300,"b":8000,"t":"k"},{"g":"E","a":8900,"b":9800,"t":"k"},{"g":"E","a":9800,"b":10100,"t":"w"},{"g":"E","a":11600,"b":11900,"t":"w"},{"g":"E","a":12300,"b":13200,"t":"k"},{"g":"E","a":13300,"b":14000,"t":"k"},{"g":"E","a":14200,"b":14500,"t":"w"},{"g":"E","a":14700,"b":15400,"t":"k"},{"g":"E","a":15900,"b":16500,"t":"w"},{"g":"E","a":16900,"b":18100,"t":"k"},{"g":"E","a":18300,"b":20500,"t":"k"},{"g":"E","a":20700,"b":21000,"t":"w"},{"g":"E","a":22200,"b":23000,"t":"k"},{"g":"E","a":23400,"b":23600,"t":"w"},{"g":"E","a":24800,"b":26300,"t":"k"},{"g":"E","a":26800,"b":28200,"t":"k"},{"g":"E","a":28300,"b":28600,"t":"w"},{"g":"E","a":29200,"b":29400,"t":"w"},{"g":"E","a":30400,"b":31900,"t":"k"},{"g":"E","a":33900,"b":35000,"t":"k"},{"g":"E","a":35100,"b":35500,"t":"w"},{"g":"E","a":37500,"b":38600,"t":"k"},{"g":"E","a":40800,"b":42400,"t":"k"},{"g":"E","a":42600,"b":42800,"t":"w"},{"g":"E","a":45100,"b":46000,"t":"k"},{"g":"E","a":46200,"b":46600,"t":"w"},{"g":"E","a":47600,"b":48000,"t":"w"},{"g":"E","a":50200,"b":51100,"t":"k"},{"g":"E","a":52000,"b":53100,"t":"k"},{"g":"E","a":53800,"b":55300,"t":"k"},{"g":"E","a":55500,"b":56000,"t":"w"},{"g":"E","a":56000,"b":56700,"t":"k"},{"g":"E","a":57000,"b":57400,"t":"w"},{"g":"E","a":59200,"b":59500,"t":"w"},{"g":"E","a":60000,"b":61800,"t":"k"},{"g":"E","a":62000,"b":62500,"t":"w"},{"g":"E","a":62800,"b":63500,"t":"k"},{"g":"E","a":65000,"b":66600,"t":"k"},{"g":"E","a":66800,"b":67300,"t":"w"},{"g":"E","a":67500,"b":69400,"t":"k"},{"g":"E","a":69800,"b":70500,"t":"k"},{"g":"E","a":70800,"b":71000,"t":"w"},{"g":"E","a":74800,"b":76300,"t":"k"},{"g":"E","a":76500,"b":76800,"t":"w"},{"g":"E","a":76800,"b":77900,"t":"k"},{"g":"E","a":78400,"b":79000,"t":"w"},{"g":"E","a":79200,"b":80800,"t":"k"},{"g":"E","a":81100,"b":83500,"t":"k"},{"g":"E","a":83700,"b":84100,"t":"w"},{"g":"E","a":84200,"b":86000,"t":"k"},{"g":"E","a":86800,"b":87900,"t":"k"},{"g":"E","a":88400,"b":88600,"t":"w"},{"g":"E","a":88900,"b":89600,"t":"k"},{"g":"E","a":90000,"b":90800,"t":"w"},{"g":"E","a":93600,"b":94900,"t":"k"},{"g":"E","a":94900,"b":96000,"t":"k"},{"g":"E","a":96000,"b":96300,"t":"w"},{"g":"E","a":96800,"b":97800,"t":"k"},{"g":"E","a":98900,"b":99200,"t":"w"},{"g":"E","a":101600,"b":102000,"t":"w"},{"g":"E","a":102100,"b":103800,"t":"k"},{"g":"E","a":106300,"b":107000,"t":"k"},{"g":"E","a":108100,"b":109600,"t":"k"},{"g":"E","a":111000,"b":112100,"t":"k"},{"g":"E","a":113000,"b":115000,"t":"k"},{"g":"E","a":115200,"b":116100,"t":"k"},{"g":"E","a":116400,"b":117200,"t":"w"},{"g":"E","a":117300,"b":119000,"t":"k"},{"g":"E","a":119200,"b":120200,"t":"w"},{"g":"E","a":124100,"b":125900,"t":"k"},{"g":"E","a":125900,"b":126200,"t":"w"},{"g":"E","a":128400,"b":129100,"t":"w"},{"g":"E","a":131800,"b":132900,"t":"k"},{"g":"E","a":133400,"b":134200,"t":"k"},{"g":"E","a":136700,"b":137100,"t":"w"},{"g":"E","a":136100,"b":136600,"t":"k"},{"g":"E","a":138800,"b":139500,"t":"k"},{"g":"E","a":142900,"b":144100,"t":"k"},{"g":"E","a":144400,"b":144900,"t":"w"},{"g":"E","a":144900,"b":145600,"t":"k"},{"g":"E","a":145800,"b":146900,"t":"w"},{"g":"E","a":147000,"b":148100,"t":"k"},{"g":"E","a":148200,"b":148700,"t":"w"},{"g":"E","a":148700,"b":149800,"t":"k"},{"g":"E","a":150100,"b":150900,"t":"k"},{"g":"E","a":151100,"b":151800,"t":"w"},{"g":"E","a":153800,"b":154100,"t":"w"},{"g":"E","a":155200,"b":156300,"t":"k"},{"g":"E","a":158500,"b":159900,"t":"k"},{"g":"E","a":160100,"b":163000,"t":"k"},{"g":"E","a":163200,"b":164100,"t":"k"},{"g":"E","a":165100,"b":166100,"t":"k"},{"g":"E","a":167200,"b":168300,"t":"k"},{"g":"E","a":168600,"b":170100,"t":"w"},{"g":"E","a":170900,"b":172600,"t":"k"},{"g":"E","a":172800,"b":174000,"t":"k"},{"g":"E","a":174800,"b":175900,"t":"k"},{"g":"E","a":176600,"b":177400,"t":"k"},{"g":"E","a":177600,"b":177800,"t":"w"},{"g":"E","a":180200,"b":180600,"t":"w"},{"g":"E","a":180800,"b":181800,"t":"k"},{"g":"E","a":183200,"b":184500,"t":"k"},{"g":"E","a":184900,"b":185400,"t":"w"},{"g":"E","a":186900,"b":187300,"t":"w"},{"g":"E","a":187300,"b":187700,"t":"k"},{"g":"E","a":187900,"b":189000,"t":"w"},{"g":"E","a":192900,"b":194300,"t":"k"},{"g":"E","a":194700,"b":195400,"t":"k"},{"g":"E","a":196000,"b":197200,"t":"k"},{"g":"E","a":197400,"b":197900,"t":"w"},{"g":"E","a":198900,"b":201000,"t":"k"},{"g":"E","a":201200,"b":201600,"t":"w"},{"g":"E","a":203500,"b":203800,"t":"w"},
{"g":"D","a":2200,"b":2500,"t":"k"},{"g":"D","a":2900,"b":3300,"t":"g"},{"g":"D","a":4100,"b":5100,"t":"g"},{"g":"D","a":6100,"b":6300,"t":"k"},{"g":"D","a":8200,"b":8800,"t":"g"},{"g":"D","a":9300,"b":9800,"t":"k"},{"g":"D","a":10100,"b":10500,"t":"g"},{"g":"D","a":11100,"b":11300,"t":"k"},{"g":"D","a":12100,"b":12400,"t":"g"},{"g":"D","a":15600,"b":15800,"t":"k"},{"g":"D","a":17500,"b":17700,"t":"k"},{"g":"D","a":18700,"b":19200,"t":"k"},{"g":"D","a":19600,"b":19800,"t":"k"},{"g":"D","a":23100,"b":23600,"t":"g"},{"g":"D","a":24500,"b":24800,"t":"g"},{"g":"D","a":25400,"b":25600,"t":"k"},{"g":"D","a":26800,"b":27000,"t":"k"},{"g":"D","a":27500,"b":27700,"t":"k"},{"g":"D","a":29600,"b":29800,"t":"k"},{"g":"D","a":30500,"b":30700,"t":"k"},{"g":"D","a":32000,"b":33000,"t":"g"},{"g":"D","a":33500,"b":33700,"t":"k"},{"g":"D","a":33900,"b":34100,"t":"k"},{"g":"D","a":36800,"b":37000,"t":"k"},{"g":"D","a":38600,"b":38800,"t":"k"},{"g":"D","a":39200,"b":39400,"t":"k"},{"g":"D","a":39700,"b":40100,"t":"g"},{"g":"D","a":40500,"b":40700,"t":"k"},{"g":"D","a":41300,"b":41500,"t":"k"},{"g":"D","a":43460,"b":44400,"t":"g"},{"g":"D","a":48020,"b":48300,"t":"k"},{"g":"D","a":50410,"b":50700,"t":"k"},{"g":"D","a":53890,"b":54200,"t":"k"},{"g":"D","a":55850,"b":56500,"t":"g"},{"g":"D","a":58240,"b":58500,"t":"k"},{"g":"D","a":59980,"b":60300,"t":"k"},{"g":"D","a":63230,"b":63500,"t":"k"},{"g":"D","a":66930,"b":67600,"t":"g"},{"g":"D","a":69750,"b":70800,"t":"k"},{"g":"D","a":72580,"b":73900,"t":"g"},{"g":"D","a":76490,"b":76800,"t":"k"},{"g":"D","a":78450,"b":78700,"t":"k"},{"g":"D","a":80620,"b":82100,"t":"g"},{"g":"D","a":84750,"b":85000,"t":"k"},{"g":"D","a":86490,"b":86800,"t":"k"},{"g":"D","a":88230,"b":89500,"t":"g"},{"g":"D","a":91490,"b":91800,"t":"k"},{"g":"D","a":94750,"b":95000,"t":"k"},{"g":"D","a":97350,"b":97600,"t":"k"},{"g":"D","a":100180,"b":100800,"t":"g"},{"g":"D","a":103430,"b":103700,"t":"k"},{"g":"D","a":106690,"b":107300,"t":"g"},{"g":"D","a":109520,"b":109800,"t":"k"},{"g":"D","a":113210,"b":113900,"t":"g"},{"g":"D","a":116470,"b":116700,"t":"k"},{"g":"D","a":118650,"b":118900,"t":"k"},{"g":"D","a":121910,"b":122600,"t":"g"},{"g":"D","a":124080,"b":124400,"t":"k"},{"g":"D","a":128430,"b":128700,"t":"k"},{"g":"D","a":131690,"b":132300,"t":"g"},{"g":"D","a":134950,"b":135200,"t":"k"},{"g":"D","a":137770,"b":138000,"t":"k"},{"g":"D","a":141470,"b":142100,"t":"g"},{"g":"D","a":144720,"b":145000,"t":"k"},{"g":"D","a":147980,"b":148600,"t":"g"},{"g":"D","a":151240,"b":151500,"t":"k"},{"g":"D","a":155580,"b":155900,"t":"k"},{"g":"D","a":159930,"b":160600,"t":"g"},{"g":"D","a":163190,"b":163500,"t":"k"},{"g":"D","a":165360,"b":165600,"t":"k"},{"g":"D","a":169710,"b":170400,"t":"g"},{"g":"D","a":171880,"b":172200,"t":"k"},{"g":"D","a":175140,"b":175400,"t":"k"},{"g":"D","a":180570,"b":182700,"t":"g"},{"g":"D","a":186010,"b":186300,"t":"k"},{"g":"D","a":189270,"b":189500,"t":"k"},{"g":"D","a":191440,"b":191700,"t":"k"},{"g":"D","a":195790,"b":196400,"t":"g"},{"g":"D","a":197960,"b":198200,"t":"k"},{"g":"D","a":200130,"b":200400,"t":"k"},{"g":"D","a":201650,"b":202300,"t":"g"},
{"g":"FD","a":3100,"b":3300,"t":"k"},{"g":"FD","a":4000,"b":4200,"t":"g"},{"g":"FD","a":4500,"b":4700,"t":"k"},{"g":"FD","a":8200,"b":8500,"t":"g"},{"g":"FD","a":9500,"b":9700,"t":"k"},{"g":"FD","a":10100,"b":10300,"t":"g"},{"g":"FD","a":11100,"b":11300,"t":"k"},{"g":"FD","a":12100,"b":12400,"t":"g"},{"g":"FD","a":17500,"b":17700,"t":"k"},{"g":"FD","a":18900,"b":19100,"t":"k"},{"g":"FD","a":19600,"b":19800,"t":"g"},{"g":"FD","a":23200,"b":23600,"t":"g"},{"g":"FD","a":24400,"b":24700,"t":"g"},{"g":"FD","a":26700,"b":26900,"t":"k"},{"g":"FD","a":29500,"b":29700,"t":"k"},{"g":"FD","a":32100,"b":32500,"t":"g"},{"g":"FD","a":36700,"b":36900,"t":"k"},{"g":"FD","a":38500,"b":38900,"t":"g"},{"g":"FD","a":39500,"b":39700,"t":"k"},{"g":"FD","a":40300,"b":40600,"t":"g"},{"g":"FD","a":42590,"b":42900,"t":"k"},{"g":"FD","a":46070,"b":46300,"t":"k"},{"g":"FD","a":48670,"b":49000,"t":"g"},{"g":"FD","a":52370,"b":52600,"t":"k"},{"g":"FD","a":55630,"b":55900,"t":"g"},{"g":"FD","a":59980,"b":60200,"t":"k"},{"g":"FD","a":65620,"b":66200,"t":"k"},{"g":"FD","a":70840,"b":71100,"t":"k"},{"g":"FD","a":75180,"b":75400,"t":"k"},{"g":"FD","a":81700,"b":82000,"t":"k"},{"g":"FD","a":90400,"b":90700,"t":"k"},{"g":"FD","a":95180,"b":95400,"t":"k"},{"g":"FD","a":101260,"b":101600,"t":"g"},{"g":"FD","a":105610,"b":105900,"t":"k"},{"g":"FD","a":109950,"b":110200,"t":"k"},{"g":"FD","a":116470,"b":116700,"t":"k"},{"g":"FD","a":126250,"b":126500,"t":"k"},{"g":"FD","a":131690,"b":131950,"t":"k"},{"g":"FD","a":136030,"b":136300,"t":"g"},{"g":"FD","a":143630,"b":143900,"t":"k"},{"g":"FD","a":149060,"b":149300,"t":"k"},{"g":"FD","a":154490,"b":154700,"t":"k"},{"g":"FD","a":159930,"b":160300,"t":"g"},{"g":"FD","a":166450,"b":166700,"t":"k"},{"g":"FD","a":169710,"b":169950,"t":"k"},{"g":"FD","a":174060,"b":174300,"t":"k"},{"g":"FD","a":182750,"b":183300,"t":"k"},{"g":"FD","a":188180,"b":188400,"t":"k"},{"g":"FD","a":194700,"b":194950,"t":"k"},{"g":"FD","a":200130,"b":200400,"t":"k"},
{"g":"PT","a":2300,"b":2500,"t":"k"},{"g":"PT","a":4300,"b":4800,"t":"g"},{"g":"PT","a":6100,"b":6300,"t":"k"},{"g":"PT","a":9400,"b":9700,"t":"k"},{"g":"PT","a":17500,"b":17700,"t":"k"},{"g":"PT","a":19000,"b":19300,"t":"g"},{"g":"PT","a":19600,"b":19900,"t":"k"},{"g":"PT","a":23100,"b":23400,"t":"g"},{"g":"PT","a":25400,"b":25600,"t":"k"},{"g":"PT","a":27500,"b":27700,"t":"k"},{"g":"PT","a":29500,"b":29700,"t":"k"},{"g":"PT","a":31900,"b":32300,"t":"g"},{"g":"PT","a":38500,"b":38700,"t":"k"},{"g":"PT","a":39000,"b":39700,"t":"g"},{"g":"PT","a":39900,"b":40100,"t":"g"},{"g":"PT","a":41300,"b":41500,"t":"g"},{"g":"PT","a":43030,"b":43300,"t":"k"},{"g":"PT","a":47810,"b":48200,"t":"g"},{"g":"PT","a":52590,"b":52800,"t":"k"},{"g":"PT","a":56720,"b":57000,"t":"k"},{"g":"PT","a":59540,"b":59800,"t":"k"},{"g":"PT","a":64320,"b":64600,"t":"g"},{"g":"PT","a":66060,"b":66400,"t":"k"},{"g":"PT","a":68670,"b":69000,"t":"g"},{"g":"PT","a":73010,"b":73300,"t":"k"},{"g":"PT","a":78660,"b":79200,"t":"k"},{"g":"PT","a":83880,"b":84100,"t":"k"},{"g":"PT","a":87140,"b":87400,"t":"k"},{"g":"PT","a":93000,"b":93300,"t":"k"},{"g":"PT","a":101260,"b":101500,"t":"k"},{"g":"PT","a":106690,"b":107100,"t":"g"},{"g":"PT","a":111690,"b":111950,"t":"g"},{"g":"PT","a":121260,"b":121500,"t":"k"},{"g":"PT","a":129080,"b":129350,"t":"k"},{"g":"PT","a":132340,"b":132600,"t":"k"},{"g":"PT","a":138200,"b":138500,"t":"g"},{"g":"PT","a":146900,"b":147200,"t":"k"},{"g":"PT","a":153410,"b":153650,"t":"k"},{"g":"PT","a":159930,"b":160200,"t":"k"},{"g":"PT","a":166450,"b":166700,"t":"k"},{"g":"PT","a":174060,"b":174300,"t":"k"},{"g":"PT","a":181660,"b":182100,"t":"k"},{"g":"PT","a":187100,"b":187350,"t":"k"},{"g":"PT","a":193620,"b":193900,"t":"k"},{"g":"PT","a":199050,"b":199400,"t":"g"},{"g":"PT","a":202960,"b":203300,"t":"g"},
{"g":"WP","a":2200,"b":2400,"t":"k"},{"g":"WP","a":4300,"b":4800,"t":"g"},{"g":"WP","a":6100,"b":6300,"t":"k"},{"g":"WP","a":9500,"b":9700,"t":"k"},{"g":"WP","a":12100,"b":12400,"t":"g"},{"g":"WP","a":17600,"b":17800,"t":"k"},{"g":"WP","a":18900,"b":19200,"t":"g"},{"g":"WP","a":19600,"b":19800,"t":"k"},{"g":"WP","a":23100,"b":23300,"t":"g"},{"g":"WP","a":25400,"b":25600,"t":"k"},{"g":"WP","a":27600,"b":27800,"t":"k"},{"g":"WP","a":29600,"b":29800,"t":"k"},{"g":"WP","a":32000,"b":32300,"t":"g"},{"g":"WP","a":38400,"b":38600,"t":"k"},{"g":"WP","a":38700,"b":39500,"t":"g"},{"g":"WP","a":39800,"b":40200,"t":"g"},{"g":"WP","a":41400,"b":41700,"t":"g"},{"g":"WP","a":43800,"b":44000,"t":"k"},{"g":"WP","a":45000,"b":45300,"t":"g"},{"g":"WP","a":48600,"b":48900,"t":"g"},{"g":"WP","a":51000,"b":51200,"t":"k"},{"g":"WP","a":52000,"b":52200,"t":"g"},{"g":"WP","a":56000,"b":56300,"t":"g"},{"g":"WP","a":61300,"b":61500,"t":"k"},{"g":"WP","a":64600,"b":64800,"t":"k"},{"g":"WP","a":65200,"b":65900,"t":"g"},{"g":"WP","a":67000,"b":67300,"t":"g"},{"g":"WP","a":70500,"b":70700,"t":"k"},{"g":"WP","a":72400,"b":72700,"t":"g"},{"g":"WP","a":78200,"b":78400,"t":"k"},{"g":"WP","a":81200,"b":81500,"t":"g"},{"g":"WP","a":83100,"b":83400,"t":"g"},{"g":"WP","a":85900,"b":86200,"t":"k"},{"g":"WP","a":92800,"b":93000,"t":"k"},{"g":"WP","a":100400,"b":100600,"t":"k"},{"g":"WP","a":102000,"b":102300,"t":"g"},{"g":"WP","a":103700,"b":103900,"t":"k"},{"g":"WP","a":104300,"b":104600,"t":"g"},{"g":"WP","a":108700,"b":109000,"t":"k"},{"g":"WP","a":113000,"b":113200,"t":"k"},{"g":"WP","a":113600,"b":113800,"t":"k"},{"g":"WP","a":119700,"b":119900,"t":"k"},{"g":"WP","a":121000,"b":121200,"t":"k"},{"g":"WP","a":124500,"b":124900,"t":"g"},{"g":"WP","a":125600,"b":125800,"t":"k"},{"g":"WP","a":129900,"b":130400,"t":"g"},{"g":"WP","a":134900,"b":135300,"t":"g"},{"g":"WP","a":136200,"b":136400,"t":"k"},{"g":"WP","a":138900,"b":139200,"t":"g"},{"g":"WP","a":139800,"b":140100,"t":"g"},{"g":"WP","a":142600,"b":142800,"t":"k"},{"g":"WP","a":143500,"b":143700,"t":"g"},{"g":"WP","a":147300,"b":147500,"t":"k"},{"g":"WP","a":153000,"b":153200,"t":"k"},{"g":"WP","a":156600,"b":156900,"t":"g"},{"g":"WP","a":158400,"b":158600,"t":"k"},{"g":"WP","a":160100,"b":160300,"t":"k"},{"g":"WP","a":162000,"b":162300,"t":"g"},{"g":"WP","a":164600,"b":164800,"t":"k"},{"g":"WP","a":166700,"b":166900,"t":"g"},{"g":"WP","a":167600,"b":167800,"t":"g"},{"g":"WP","a":172100,"b":172400,"t":"g"},{"g":"WP","a":172800,"b":173000,"t":"k"},{"g":"WP","a":181000,"b":181300,"t":"g"},{"g":"WP","a":183700,"b":183900,"t":"k"},{"g":"WP","a":186100,"b":186300,"t":"g"},{"g":"WP","a":188300,"b":188500,"t":"k"},{"g":"WP","a":194300,"b":194500,"t":"k"},{"g":"WP","a":194900,"b":195100,"t":"g"},{"g":"WP","a":197900,"b":198200,"t":"g"},{"g":"WP","a":198700,"b":198900,"t":"k"},{"g":"WP","a":203400,"b":203600,"t":"k"},
{"g":"WPP","a":1100,"b":1300,"t":"g"},{"g":"WPP","a":8700,"b":9000,"t":"g"},{"g":"WPP","a":40900,"b":41100,"t":"k"},{"g":"WPP","a":55600,"b":56300,"t":"g"},{"g":"WPP","a":70700,"b":71000,"t":"k"},{"g":"WPP","a":78300,"b":78600,"t":"k"},{"g":"WPP","a":135500,"b":136000,"t":"g"},{"g":"WPP","a":156600,"b":157000,"t":"k"},{"g":"WPP","a":159300,"b":159500,"t":"k"},{"g":"WPP","a":163500,"b":163800,"t":"g"},{"g":"WPP","a":173600,"b":173800,"t":"k"},{"g":"WPP","a":198700,"b":198900,"t":"k"},
{"g":"WA","a":1200,"b":1400,"t":"k"},{"g":"WA","a":8800,"b":9000,"t":"g"},{"g":"WA","a":38600,"b":38800,"t":"g"},{"g":"WA","a":39800,"b":40000,"t":"g"},{"g":"WA","a":40900,"b":41100,"t":"g"},{"g":"WA","a":55800,"b":56200,"t":"g"},{"g":"WA","a":61300,"b":61500,"t":"k"},{"g":"WA","a":65500,"b":65700,"t":"k"},{"g":"WA","a":66000,"b":66200,"t":"k"},{"g":"WA","a":70700,"b":70900,"t":"g"},{"g":"WA","a":78200,"b":78400,"t":"k"},{"g":"WA","a":100800,"b":101000,"t":"k"},{"g":"WA","a":119700,"b":119900,"t":"k"},{"g":"WA","a":121000,"b":121200,"t":"k"},{"g":"WA","a":135700,"b":135900,"t":"k"},{"g":"WA","a":136100,"b":136300,"t":"k"},{"g":"WA","a":156800,"b":157000,"t":"g"},{"g":"WA","a":159500,"b":159700,"t":"k"},{"g":"WA","a":163600,"b":163800,"t":"g"},{"g":"WA","a":173600,"b":173800,"t":"k"},{"g":"WA","a":198700,"b":198900,"t":"k"},
{"g":"EP","a":1100,"b":1300,"t":"g"},{"g":"EP","a":70700,"b":70900,"t":"g"},{"g":"EP","a":135800,"b":136000,"t":"k"},{"g":"EP","a":173600,"b":173800,"t":"k"},
{"g":"Y","a":17500,"b":17800,"t":"g"},{"g":"Y","a":65800,"b":66100,"t":"g"},{"g":"Y","a":81000,"b":81300,"t":"g"},{"g":"Y","a":113600,"b":113900,"t":"g"},{"g":"Y","a":167300,"b":167600,"t":"g"},{"g":"Y","a":172500,"b":172800,"t":"g"},{"g":"S","a":81000,"b":81300,"t":"g"},{"g":"S","a":167300,"b":167600,"t":"g"},{"g":"PD","a":1200,"b":1400,"t":"g"}
],
"lines":[{"n":6,"a":0,"b":203843},{"n":7,"a":0,"b":203843},{"n":8,"a":0,"b":203843},{"n":9,"a":0,"b":203843},{"n":12,"a":0,"b":203843},{"n":13,"a":0,"b":203843},{"n":14,"a":0,"b":203843},{"n":15,"a":0,"b":203843},{"n":16,"a":0,"b":203843},{"n":17,"a":0,"b":203843},{"n":18,"a":0,"b":203843},{"n":25,"a":0,"b":203843},{"n":26,"a":0,"b":203843},
{"n":27,"a":0,"b":1200},{"n":27,"a":3000,"b":9000},{"n":27,"a":10000,"b":16500},{"n":27,"a":17300,"b":25500},{"n":27,"a":26500,"b":38000},{"n":27,"a":39000,"b":46000},{"n":27,"a":47000,"b":59000},{"n":27,"a":60000,"b":67000},{"n":27,"a":68000,"b":79000},{"n":27,"a":80000,"b":91000},{"n":27,"a":92000,"b":104000},{"n":27,"a":105000,"b":115000},{"n":27,"a":116000,"b":128000},{"n":27,"a":129000,"b":141000},{"n":27,"a":142000,"b":153000},{"n":27,"a":154000,"b":166000},{"n":27,"a":167000,"b":176000},{"n":27,"a":177500,"b":186000},{"n":27,"a":187000,"b":196000},{"n":27,"a":197500,"b":203843},
{"n":19,"a":2000,"b":3200},{"n":19,"a":4300,"b":5000},{"n":19,"a":6000,"b":6900},{"n":19,"a":8000,"b":8900},{"n":19,"a":10000,"b":10800},{"n":19,"a":12000,"b":12600},{"n":19,"a":15000,"b":16500},{"n":19,"a":19000,"b":20500},{"n":19,"a":22000,"b":23300},{"n":19,"a":26000,"b":27500},{"n":19,"a":30400,"b":31300},{"n":19,"a":32500,"b":34000},{"n":19,"a":38500,"b":39500},{"n":19,"a":41000,"b":43000},{"n":19,"a":49000,"b":50500},{"n":19,"a":56000,"b":58000},{"n":19,"a":62000,"b":64000},{"n":19,"a":70000,"b":71500},{"n":19,"a":78000,"b":80000},{"n":19,"a":86000,"b":88000},{"n":19,"a":93000,"b":95000},{"n":19,"a":102000,"b":104000},{"n":19,"a":110000,"b":112000},{"n":19,"a":118000,"b":120000},{"n":19,"a":126000,"b":128000},{"n":19,"a":134000,"b":136000},{"n":19,"a":143000,"b":145000},{"n":19,"a":150000,"b":152000},{"n":19,"a":158000,"b":159500},{"n":19,"a":165000,"b":167000},{"n":19,"a":172000,"b":174000},{"n":19,"a":180000,"b":182000},{"n":19,"a":188000,"b":190000},{"n":19,"a":196000,"b":198000},{"n":19,"a":201000,"b":203000},
{"n":20,"a":1500,"b":2300},{"n":20,"a":5800,"b":8000},{"n":20,"a":10000,"b":11000},{"n":20,"a":13000,"b":14000},{"n":20,"a":15500,"b":17000},{"n":20,"a":21000,"b":24000},{"n":20,"a":28000,"b":29000},{"n":20,"a":32000,"b":36000},{"n":20,"a":39500,"b":41000},{"n":20,"a":44000,"b":47000},{"n":20,"a":52000,"b":54000},{"n":20,"a":60000,"b":62000},{"n":20,"a":68000,"b":71000},{"n":20,"a":75000,"b":77000},{"n":20,"a":84000,"b":86000},{"n":20,"a":91000,"b":94000},{"n":20,"a":99000,"b":102000},{"n":20,"a":107000,"b":109000},{"n":20,"a":114000,"b":117000},{"n":20,"a":122000,"b":125000},{"n":20,"a":130000,"b":132000},{"n":20,"a":138000,"b":141000},{"n":20,"a":147000,"b":149000},{"n":20,"a":155000,"b":158000},{"n":20,"a":163000,"b":166000},{"n":20,"a":170000,"b":172000},{"n":20,"a":177000,"b":179000},{"n":20,"a":184000,"b":187000},{"n":20,"a":192000,"b":195000},{"n":20,"a":199000,"b":201000}],
"dashed":[{"n":10,"a":0,"b":203843},{"n":11,"a":0,"b":203843}],
"pts":[
{"n":21,"r":200},{"n":21,"r":2500},{"n":21,"r":4200},{"n":21,"r":12900},{"n":21,"r":15100},{"n":21,"r":16000},{"n":21,"r":20100},{"n":21,"r":23800},{"n":21,"r":41500},{"n":21,"r":42500},{"n":21,"r":45300},{"n":21,"r":48300},{"n":21,"r":50000},{"n":21,"r":52400},{"n":21,"r":70000},{"n":21,"r":76000},{"n":21,"r":85000},{"n":21,"r":89000},{"n":21,"r":95500},{"n":21,"r":100000},{"n":21,"r":105000},{"n":21,"r":110000},{"n":21,"r":116000},{"n":21,"r":125000},{"n":21,"r":131000},{"n":21,"r":140000},{"n":21,"r":146000},{"n":21,"r":150000},{"n":21,"r":152500},{"n":21,"r":157000},{"n":21,"r":162500},{"n":21,"r":170000},{"n":21,"r":178000},{"n":21,"r":186000},{"n":21,"r":188500},{"n":21,"r":195000},{"n":21,"r":200000},
{"n":22,"r":3400},{"n":22,"r":8500},{"n":22,"r":14500},{"n":22,"r":18300},{"n":22,"r":39500},{"n":22,"r":43000},{"n":22,"r":65000},{"n":22,"r":78000},{"n":22,"r":101000},{"n":22,"r":118000},{"n":22,"r":140000},{"n":22,"r":155000},{"n":22,"r":160500},{"n":22,"r":166000},{"n":22,"r":176000},{"n":22,"r":183800},{"n":22,"r":188000},{"n":22,"r":194000},
{"n":24,"r":5400},{"n":24,"r":168000},
{"n":28,"r":1300},{"n":28,"r":2200},{"n":28,"r":3300},{"n":28,"r":4500},{"n":28,"r":5500},{"n":28,"r":8900},{"n":28,"r":11900},{"n":28,"r":14000},{"n":28,"r":15000},{"n":28,"r":17000},{"n":28,"r":20500},{"n":28,"r":21500},{"n":28,"r":22500},{"n":28,"r":26500},{"n":28,"r":28500},{"n":28,"r":31500},{"n":28,"r":33500},{"n":28,"r":34500},{"n":28,"r":39000},{"n":28,"r":41500},{"n":28,"r":43500},{"n":28,"r":47500},{"n":28,"r":51000},{"n":28,"r":53500},{"n":28,"r":58000},{"n":28,"r":60000},{"n":28,"r":64000},{"n":28,"r":69000},{"n":28,"r":71000},{"n":28,"r":75500},{"n":28,"r":80000},{"n":28,"r":85000},{"n":28,"r":87500},{"n":28,"r":92500},{"n":28,"r":97000},{"n":28,"r":99000},{"n":28,"r":104000},{"n":28,"r":109000},{"n":28,"r":111000},{"n":28,"r":116500},{"n":28,"r":121000},{"n":28,"r":124000},{"n":28,"r":129000},{"n":28,"r":134000},{"n":28,"r":136500},{"n":28,"r":142000},{"n":28,"r":147000},{"n":28,"r":150000},{"n":28,"r":155500},{"n":28,"r":160500},{"n":28,"r":163000},{"n":28,"r":168500},{"n":28,"r":173500},{"n":28,"r":176000},{"n":28,"r":181500},{"n":28,"r":187000},{"n":28,"r":190000},{"n":28,"r":195500},{"n":28,"r":200500},
{"n":29,"r":1500},{"n":29,"r":2700},{"n":29,"r":3800},{"n":29,"r":6000},{"n":29,"r":7500},{"n":29,"r":8800},{"n":29,"r":10800},{"n":29,"r":13000},{"n":29,"r":14500},{"n":29,"r":17300},{"n":29,"r":20800},{"n":29,"r":22000},{"n":29,"r":23200},{"n":29,"r":25500},{"n":29,"r":29000},{"n":29,"r":33000},{"n":29,"r":34300},{"n":29,"r":37000},{"n":29,"r":40000},{"n":29,"r":42200},{"n":29,"r":46000},{"n":29,"r":49500},{"n":29,"r":54000},{"n":29,"r":61000},{"n":29,"r":66500},{"n":29,"r":73000},{"n":29,"r":78000},{"n":29,"r":83000},{"n":29,"r":90000},{"n":29,"r":95000},{"n":29,"r":101500},{"n":29,"r":106500},{"n":29,"r":113500},{"n":29,"r":119000},{"n":29,"r":126500},{"n":29,"r":131500},{"n":29,"r":139000},{"n":29,"r":144500},{"n":29,"r":152000},{"n":29,"r":158000},{"n":29,"r":165500},{"n":29,"r":171000},{"n":29,"r":179000},{"n":29,"r":184500},{"n":29,"r":192500},{"n":29,"r":198000},{"n":29,"r":202500},
{"n":30,"r":1800},{"n":30,"r":2800},{"n":30,"r":8900},{"n":30,"r":12400},{"n":30,"r":14200},{"n":30,"r":18400},{"n":30,"r":20800},{"n":30,"r":26500},{"n":30,"r":28400},{"n":30,"r":33000},{"n":30,"r":37000},{"n":30,"r":40500},{"n":30,"r":42200},{"n":30,"r":55000},{"n":30,"r":63800},{"n":30,"r":70000},{"n":30,"r":82000},{"n":30,"r":94000},{"n":30,"r":105000},{"n":30,"r":118000},{"n":30,"r":128000},{"n":30,"r":140000},{"n":30,"r":150000},{"n":30,"r":158000},{"n":30,"r":165000},{"n":30,"r":173000},{"n":30,"r":184000},{"n":30,"r":191000},{"n":30,"r":196000},{"n":30,"r":201000},
{"n":31,"r":32300},{"n":31,"r":33750},{"n":31,"r":39340},{"n":31,"r":42240},{"n":31,"r":54180},{"n":31,"r":63000},{"n":31,"r":64200},{"n":31,"r":90000},{"n":31,"r":152000},{"n":31,"r":172000},{"n":31,"r":199000},
{"n":32,"r":4563},{"n":32,"r":5285},{"n":32,"r":8910},{"n":32,"r":13470},{"n":32,"r":16510},{"n":32,"r":23980},{"n":32,"r":25140},{"n":32,"r":27450},{"n":32,"r":34480},{"n":32,"r":37880},{"n":32,"r":38970},{"n":32,"r":50350},{"n":32,"r":51500},{"n":32,"r":62800},{"n":32,"r":63500},{"n":32,"r":64200},{"n":32,"r":78000},{"n":32,"r":97000},{"n":32,"r":106500},{"n":32,"r":154000},{"n":32,"r":155000},{"n":32,"r":159000},{"n":32,"r":162500},{"n":32,"r":169000},{"n":32,"r":170000},{"n":32,"r":173000},{"n":32,"r":176500},{"n":32,"r":181000},{"n":32,"r":187500},{"n":32,"r":189500},{"n":32,"r":191000},{"n":32,"r":198500},
{"n":33,"r":32100},{"n":33,"r":35800},{"n":33,"r":46500},{"n":33,"r":63200},{"n":33,"r":64000},{"n":34,"r":36700},{"n":35,"r":28050},{"n":36,"r":27400},{"n":37,"r":38300},{"n":38,"r":81050},{"n":37,"r":96900},{"n":37,"r":106260},{"n":36,"r":133400},{"n":40,"r":133400},{"n":41,"r":162100},{"n":36,"r":163400},{"n":37,"r":182300},{"n":38,"r":181000},{"n":40,"r":183600},{"n":42,"r":185350},{"n":37,"r":186900}
]
},
"vconcat":[
{"bounds":"flush","spacing":10,"hconcat":[
{"width":998,"height":163,"data":{"name":"cols"},
"encoding":{"x":{"field":"c","type":"nominal","sort":null,"scale":{"paddingInner":0.2,"paddingOuter":0.1},"axis":{"title":null,"labels":false,"ticks":false,"domainColor":"#eeeeee","grid":false}},
"y":{"field":"n","type":"quantitative","scale":{"domain":[0,195689],"nice":false},"axis":{"title":null,"values":[0,40769,81537,122306,163074],"labelExpr":"format(datum.value/203843,'.0%')","labelFontSize":9,"labelPadding":4,"ticks":false,"domainColor":"#eeeeee","grid":true,"gridColor":"#bbbbbb","gridDash":[1,1.5],"gridWidth":1,"labelColor":"#000"}}},
"layer":[
{"mark":{"type":"bar","stroke":null},"encoding":{"color":{"field":"n","type":"quantitative","legend":null,"scale":{"domain":[0,25480,50961,76442,101922,127402,152882,178363,203843],"range":["#fff7fb","#ece2f0","#d0d1e6","#a6bddb","#67a9cf","#3690c0","#02818a","#016c59","#014636"]}}}},
{"mark":{"type":"text","angle":270,"align":"left","baseline":"middle","dx":1,"fontSize":9.5,"color":"#777777","clip":false},"encoding":{"text":{"field":"n","type":"nominal"}}}
]},
{"width":192,"height":163,"view":{"stroke":null},"data":{"values":[{"s":"Total: 14065.2K"},{"s":"Missing: 2532.2K"},{"s":"Relative: 18.0%"},{"s":"Max-col: 96.0%"},{"s":"Max-row: 61.0%"}]},
"mark":{"type":"text","align":"left","dx":4,"fontSize":11.8,"color":"#000"},
"encoding":{"y":{"field":"s","type":"nominal","sort":null,"scale":{"type":"point","padding":0.53},"axis":null},"x":{"datum":0,"type":"quantitative","scale":{"domain":[0,1]},"axis":null},"text":{"field":"s"}}}
]},
{"bounds":"flush","spacing":10,"hconcat":[
{"width":998,"height":938,"data":{"name":"strips"},
"transform":[{"lookup":"g","from":{"data":{"name":"groups"},"key":"g","fields":["cs"]}},{"flatten":["cs"]}],
"mark":{"type":"rect","stroke":null},
"encoding":{
"x":{"field":"cs","type":"nominal","scale":{"domain":["qtr","down","time","TimeUnder","TimeSecs","PlayTimeDiff","SideofField","yrdln","yrdline100","ydstogo","ydsnet","GoalToGo","FirstDown","posteam","DefensiveTeam","desc","PlayAttempted","Yards.Gained","sp","Touchdown","Safety","Onsidekick","PuntResult","PlayType","Passer","Passer_ID","PassAttempt","PassOutcome","PassLength","AirYards","YardsAfterCatch","QBHit","PassLocation","InterceptionThrown","Rusher","Rusher_ID","RushAttempt","RunLocation","RunGap","Receiver","Receiver_ID","Reception","ReturnResult","Returner","Tackler1","Tackler2","Fumble","Sack","Challenge.Replay","Opp_Field_Goal_Prob","Opp_Safety_Prob","Opp_Touchdown_Prob","Field_Goal_Prob","Safety_Prob","Touchdown_Prob","ExPoint_Prob","TwoPoint_Prob","ExpPts","EPA","airEPA","yacEPA","Home_WP_pre","Away_WP_pre","Home_WP_post","Away_WP_post","Win_Prob","WPA","airWPA","yacWPA"],"paddingInner":0,"paddingOuter":0},"axis":{"title":null,"labelAngle":-90,"labelFontSize":10,"labelLimit":0,"ticks":false,"domain":false,"labelColor":"#000","labelPadding":6,"grid":false}},
"y":{"field":"a","type":"quantitative","scale":{"domain":[0,203843],"reverse":true,"nice":false},"axis":{"title":null,"values":[0,9110,18210,27320,36420,45530,54630,63740,72840,81950,91050,100160,109260,118370,127470,136580,145680,154790,163890,173000,182100,191210,200310],"format":".1f","labelFontSize":9,"ticks":false,"domain":false,"labelColor":"#000","labelPadding":4,"grid":false}},
"y2":{"field":"b"},
"color":{"field":"t","type":"nominal","legend":null,"scale":{"domain":["k","g","w"],"range":["#000000","#808080","#ffffff"]}}}},
{"width":192,"height":938,
"encoding":{"x":{"field":"n","type":"quantitative","scale":{"domain":[0,42.67],"nice":false},"axis":{"title":null,"values":[0,10,20,30,40],"labelFontSize":9,"labelFlush":false,"ticks":false,"domain":false,"grid":true,"gridDash":[1,1.5],"gridColor":"#bbbbbb"}},
"color":{"field":"n","type":"quantitative","legend":null,"scale":{"domain":[0,5.25,10.5,15.75,21,26.25,31.5,36.75,42],"range":["#fff7fb","#ece2f0","#d0d1e6","#a6bddb","#67a9cf","#3690c0","#02818a","#016c59","#014636"]}}},
"layer":[
{"data":{"name":"lines"},"mark":{"type":"rule","strokeWidth":2.5},"encoding":{"y":{"field":"a","type":"quantitative","scale":{"domain":[0,203843],"reverse":true,"nice":false},"axis":null},"y2":{"field":"b"}}},
{"data":{"name":"dashed"},"mark":{"type":"rule","strokeWidth":2.5,"strokeDash":[1,2.5]},"encoding":{"y":{"field":"a","type":"quantitative","scale":{"domain":[0,203843],"reverse":true,"nice":false},"axis":null},"y2":{"field":"b"}}},
{"data":{"name":"pts"},"mark":{"type":"circle","size":10,"opacity":1},"encoding":{"y":{"field":"r","type":"quantitative","scale":{"domain":[0,203843],"reverse":true,"nice":false},"axis":null}}}
]}
]}
]
}
